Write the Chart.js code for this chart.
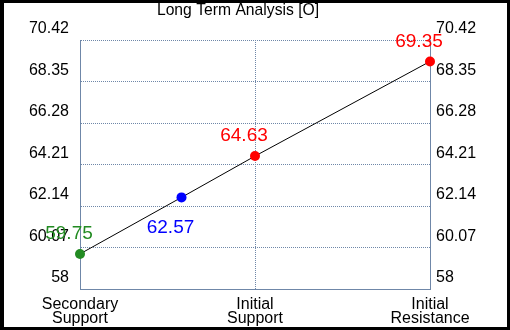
<!DOCTYPE html>
<html>
<head>
<meta charset="utf-8">
<script src="https://cdn.jsdelivr.net/npm/chart.js@4/dist/chart.umd.min.js"></script>
<style>
  html, body { margin: 0; padding: 0; background: #000; width: 510px; height: 330px; overflow: hidden; }
  #wrap { position: absolute; left: 4px; top: 3px; width: 503px; height: 324px; background: #fff; }
</style>
</head>
<body>
<div id="wrap"><canvas id="chart"></canvas></div>
<script>
const titleText = "Long Term Analysis [O]";

// levels, left to right
const levelNames = [["Secondary", "Support"], ["Initial", "Support"], ["Initial", "Resistance"]];
const pointValues = [59.75, 62.57, 64.63, 69.35];
const pointX = [0, 0.58, 1, 2];
const pointColors = ["#228b22", "#0000ff", "#ff0000", "#ff0000"];

const yTicks = [58, 60.07, 62.14, 64.21, 66.28, 68.35, 70.42];
const yTickLabels = ["58", "60.07", "62.14", "64.21", "66.28", "68.35", "70.42"];

const axisColor = "#6f87a8";
const fontFamily = "Arial, 'Liberation Sans', sans-serif";

const titlePlugin = {
    id: "titleText",
    afterDraw(chart) {
        const ctx = chart.ctx;
        ctx.save();
        ctx.font = "15.7px " + fontFamily;
        ctx.fillStyle = "#000";
        ctx.textAlign = "center";
        ctx.textBaseline = "middle";
        ctx.fillText(titleText, 234, 8);
        ctx.restore();
    }
};

const valueLabels = {
    id: "valueLabels",
    afterDatasetsDraw(chart) {
        const ctx = chart.ctx;
        const meta = chart.getDatasetMeta(0);
        ctx.save();
        ctx.font = "19px " + fontFamily;
        ctx.textAlign = "center";
        ctx.textBaseline = "middle";
        meta.data.forEach((pt, i) => {
            const below = i === 1;
            ctx.fillStyle = pointColors[i];
            ctx.fillText(pointValues[i].toFixed(2), pt.x - 11, pt.y + (below ? 30 : -20));
        });
        ctx.restore();
    }
};

const ctx2d = document.getElementById("chart").getContext("2d");
new Chart(ctx2d, {
    type: "line",
    data: {
        datasets: [{
            data: pointValues.map((v, i) => ({ x: pointX[i], y: v })),
            borderColor: "#000",
            borderWidth: 1,
            pointRadius: 5,
            pointHoverRadius: 5,
            pointBorderWidth: 0,
            pointBackgroundColor: pointColors,
            pointBorderColor: pointColors,
            fill: false,
            tension: 0,
            clip: false,
            yAxisID: "y"
        }]
    },
    options: {
        responsive: true,
        maintainAspectRatio: false,
        animation: false,
        events: [],
        layout: { padding: { top: 37, left: 0, right: 0, bottom: 0 } },
        plugins: { legend: { display: false }, tooltip: { enabled: false }, title: { display: false } },
        scales: {
            x: {
                type: "linear",
                min: 0,
                max: 2,
                afterBuildTicks: axis => { axis.ticks = [0, 1, 2].map(v => ({ value: v })); },
                afterFit: axis => { axis.height = 38; },
                ticks: {
                    autoSkip: false,
                    maxRotation: 0,
                    padding: 9,
                    color: "#000",
                    font: { family: fontFamily, size: 16, lineHeight: 0.875 },
                    callback: (v, i) => levelNames[i]
                },
                grid: {
                    drawTicks: false,
                    color: c => (c.tick && c.tick.value === 1) ? axisColor : "rgba(0,0,0,0)",
                    lineWidth: 1
                },
                border: { display: true, color: axisColor, width: 1, dash: [1, 1] }
            },
            y: {
                position: "left",
                min: 58,
                max: 70.42,
                afterBuildTicks: axis => { axis.ticks = yTicks.map(v => ({ value: v })); },
                afterFit: axis => { axis.width = 76; },
                ticks: {
                    padding: 11,
                    labelOffset: -11,
                    color: "#000",
                    font: { family: fontFamily, size: 16 },
                    callback: (v, i) => yTickLabels[i]
                },
                grid: { drawTicks: false, color: axisColor, lineWidth: 1 },
                border: { display: true, color: axisColor, width: 1, dash: [1, 1] }
            },
            y2: {
                position: "right",
                min: 58,
                max: 70.42,
                afterBuildTicks: axis => { axis.ticks = yTicks.map(v => ({ value: v })); },
                afterFit: axis => { axis.width = 77; },
                ticks: {
                    padding: 6,
                    labelOffset: -11,
                    color: "#000",
                    font: { family: fontFamily, size: 16 },
                    callback: (v, i) => yTickLabels[i]
                },
                grid: { display: false, drawTicks: false },
                border: { display: true, color: axisColor, width: 1 }
            }
        }
    },
    plugins: [titlePlugin, valueLabels]
});
</script>
</body>
</html>
